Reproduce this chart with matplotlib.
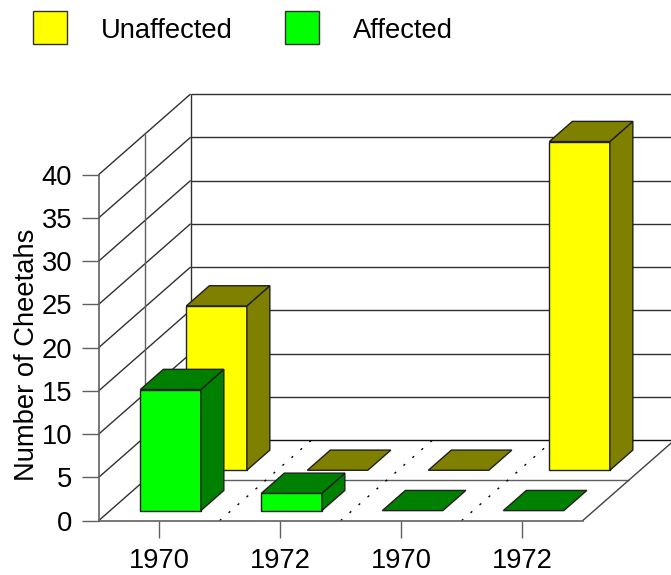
import matplotlib
matplotlib.use('Agg')
import matplotlib.pyplot as plt
from matplotlib.patches import Polygon, Patch

plt.rcParams['font.family'] = ['Liberation Sans', 'DejaVu Sans']

years = ['1970', '1972', '1970', '1972']
unaffected = [19, 0, 0, 38]
affected = [14, 2, 0, 0]
y_ticks = [0, 5, 10, 15, 20, 25, 30, 35, 40]

yellow, olive = '#ffff00', '#808000'
lime, dark_green = '#00ff00', '#008000'
LINE = '#303030'
FS = 19.7

W, H = 671, 575
fig = plt.figure(figsize=(W / 100, H / 100), dpi=100)
# axes is the front plane of the box
ax = fig.add_axes([98.6 / W, 1 - 520.7 / H, 484 / W, 346 / H])
ax.set_xlim(0, 4)
ax.set_ylim(0, 40)
ax.patch.set_visible(False)

# depth 0..1 is drawn as an oblique shift, in data units
DX = 92 / 121
DY = 80.7 / 8.65


def pr(x, v, d):
    return x + DX * d, v + DY * d


def seg(p0, p1, **kw):
    kw.setdefault('color', LINE)
    kw.setdefault('lw', 1.0)
    kw.setdefault('zorder', 1)
    ax.plot([p0[0], p1[0]], [p0[1], p1[1]], clip_on=False, solid_capstyle='butt', **kw)


def poly(pts, fc, z):
    ax.add_patch(Polygon(pts, closed=True, fc=fc, ec='#202020', lw=1.0,
                         joinstyle='miter', clip_on=False, zorder=z))


def bar3d(i, v, d0, d1, front, dark, z):
    x0, x1 = i + 0.25, i + 0.75
    if v > 0:
        poly([pr(x0, 0, d0), pr(x1, 0, d0), pr(x1, v, d0), pr(x0, v, d0)], front, z)
        poly([pr(x1, 0, d0), pr(x1, 0, d1), pr(x1, v, d1), pr(x1, v, d0)], dark, z)
    poly([pr(x0, v, d0), pr(x1, v, d0), pr(x1, v, d1), pr(x0, v, d1)], dark, z)


# walls
for v in y_ticks:
    seg(pr(0, v, 0), pr(0, v, 1))
    if v > 0:
        seg(pr(0, v, 1), pr(4, v, 1))
seg(pr(0, 0, 1), pr(4, 0, 1), color='#101010')
seg(pr(0, 0, 1), pr(0, 40, 1))
seg(pr(0, 0, 0.5), pr(0, 40, 0.5), color='#606060')
seg(pr(0, 0, 0.5), pr(4, 0, 0.5), color='#606060')
seg(pr(4, 0, 0), pr(4, 0, 1), color='#404040')

# floor separators
for x in [1, 2, 3]:
    seg(pr(x, 0, 0), pr(x, 0, 1), color='black', lw=1.0,
        linestyle=(0, (1.6, 7.0)))

# rear row first, then the front row over it
for i, v in enumerate(unaffected):
    bar3d(i, v, 0.625, 0.875, yellow, olive, 3)
for i, v in enumerate(affected):
    bar3d(i, v, 0.125, 0.375, lime, dark_green, 4)

for s in ['top', 'right']:
    ax.spines[s].set_visible(False)
for s in ['left', 'bottom']:
    ax.spines[s].set_color('#606060')
    ax.spines[s].set_linewidth(1.2)

ax.set_xticks([0.5, 1.5, 2.5, 3.5])
ax.set_xticklabels(years)
ax.set_yticks(y_ticks)
ax.tick_params(axis='x', length=12, width=1, color='#606060', pad=8, labelsize=FS)
ax.tick_params(axis='y', length=12, width=1, color='#606060', pad=7, labelsize=FS)
ax.set_ylabel('Number of Cheetahs', fontsize=FS, labelpad=1.5, y=0.479)

handles = [Patch(fc=yellow, ec='#303030', lw=1.0), Patch(fc=lime, ec='#303030', lw=1.0)]
leg = fig.legend(handles, ['Unaffected', 'Affected'], loc='upper left', frameon=False,
                 bbox_to_anchor=(33 / W, 1 - 11 / H), borderaxespad=0, borderpad=0,
                 fontsize=FS, handlelength=1.24, handleheight=1.47,
                 handletextpad=1.24, columnspacing=1.9, ncol=2)
for t in leg.get_texts():
    t.set_y(-2)

fig.savefig('out.png', dpi=100)
